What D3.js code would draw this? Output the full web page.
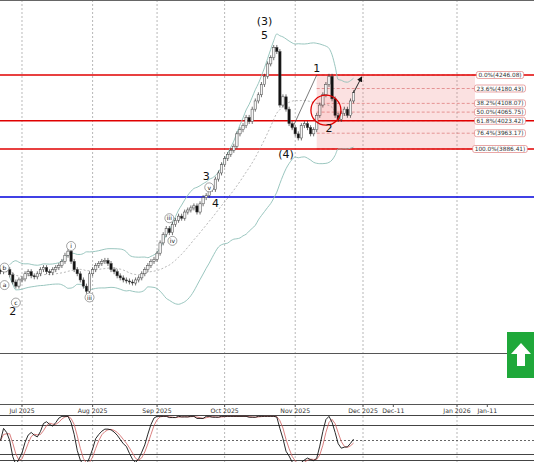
<!DOCTYPE html>
<html><head><meta charset="utf-8">
<script src="https://cdn.jsdelivr.net/npm/d3@7"></script>
<style>body{margin:0;background:#fff}svg{display:block;font-family:"DejaVu Sans",sans-serif}</style>
</head><body><div id="chart"></div>
<script>
// daily closes, Jun 20 2025 .. Nov 28 2025 (trading days)
const closes = [
  3290,3310,3300,3275,3240,3220,3250,
  3255,3280,3290,3270,3265,3280,3300,3310,3290,3285,3300,3310,3320,3340,3370,3390,3340,3300,3280,3250,3220,3195,3280,
  3300,3320,3330,3340,3345,3330,3300,3290,3270,3260,3250,3245,3240,3235,3250,3260,3280,3300,3320,3340,3350,
  3380,3430,3470,3500,3480,3520,3540,3560,3550,3580,3590,3600,3610,3580,3620,3650,3660,3700,3690,3740,3770,3810,
  3840,3860,3880,3900,3960,3980,4000,4040,4020,4080,4120,4150,4200,4240,4300,4330,4380,4360,4100,4140,4080,4010,3990,
  3960,3940,4000,4010,3990,3960,3980,4050,4100,4150,4200,4240,4130,4050,4030,4060,4080,4050,4120,4160
];
const fibPct = ["0.0%","23.6%","38.2%","50.0%","61.8%","76.4%","100.0%"];
const fibVal = [4246.08,4180.43,4108.07,4065.75,4023.42,3963.17,3886.41];
const redLevels = [4246.08,4023.42,3886.41];
const blueLevel = 3653;
const tickLabels = ["Jul 2025","Aug 2025","Sep 2025","Oct 2025","Nov 2025","Dec 2025","Dec-11","Jan 2026","Jan-11"];
const tickDates = ["2025-07-01","2025-08-01","2025-09-01","2025-10-01","2025-11-03","2025-12-01","2025-12-11","2026-01-01","2026-01-11"];
const waveLabels = [
  {t:"(3)",d:"2025-10-20",v:4490},{t:"5",d:"2025-10-20",v:4420},
  {t:"1",d:"2025-11-12",v:4262},{t:"2",d:"2025-11-18",v:3968},
  {t:"(4)",d:"2025-10-29",v:3845},{t:"3",d:"2025-09-23",v:3735},
  {t:"4",d:"2025-09-26",v:3605},{t:"2",d:"2025-06-26",v:3078}
];
const circLabels = [
  {t:"b",d:"2025-06-20",v:3310},{t:"a",d:"2025-06-19",v:3225},{t:"c",d:"2025-06-27",v:3140},
  {t:"i",d:"2025-07-23",v:3415},{t:"iii",d:"2025-07-31",v:3165},
  {t:"v",d:"2025-09-24",v:3700},{t:"iii",d:"2025-09-05",v:3550},{t:"iv",d:"2025-09-08",v:3440}
];

const W = 534, H = 462;
const svg = d3.select("#chart").append("svg").attr("width", W).attr("height", H);

// trading days
const dates = [];
for (let d = new Date(2025,5,20); d <= new Date(2025,10,28); d.setDate(d.getDate()+1)) {
  if (d.getDay() !== 0 && d.getDay() !== 6) dates.push(new Date(d));
}
const fmt = d3.timeFormat("%Y-%m-%d");
const idxOf = s => { let i = dates.findIndex(d => fmt(d) >= s); return i < 0 ? dates.length-1 : i; };
const x = d3.scaleLinear().domain([0, 1]).range([0.5, 3.57]);
// future region runs on calendar days
const xf = d3.scaleTime().domain([new Date(2025,11,1), new Date(2026,0,1)]).range([363, 457]);
const xAt = s => s >= "2025-12-01" ? xf(d3.timeParse("%Y-%m-%d")(s)) : x(idxOf(s));
const y = d3.scaleLinear().domain([3886.41, 4246.08]).range([149, 75]);

// grid
tickDates.forEach((t,i) => {
  if (i===6 || i===8) return;
  const xi = xAt(t);
  svg.append("line").attr("x1",xi).attr("x2",xi).attr("y1",0).attr("y2",H)
    .attr("stroke","#999").attr("stroke-dasharray","2,2").attr("stroke-width",0.7);
});
svg.append("line").attr("x1",0).attr("x2",W).attr("y1",0.5).attr("y2",0.5).attr("stroke","#666");

// fib box
const fx0 = x(idxOf("2025-11-12")), fx1 = 475;
svg.append("rect").attr("x",fx0).attr("y",y(fibVal[0])).attr("width",fx1-fx0)
  .attr("height",y(fibVal[6])-y(fibVal[0])).attr("fill","rgba(235,120,120,0.22)");
fibVal.forEach((v,i) => {
  svg.append("line").attr("x1",fx0).attr("x2",fx1).attr("y1",y(v)).attr("y2",y(v))
    .attr("stroke","#e08080").attr("stroke-dasharray","3,2").attr("stroke-width",0.8);
});
fibVal.forEach((v,i) => {
  const g = svg.append("g");
  const txt = g.append("text").attr("x",500).attr("y",y(v)+2).attr("text-anchor","middle")
    .attr("font-size",5.8).attr("fill","#333").text(`${fibPct[i]}(${v.toFixed(2)})`);
  const bb = txt.node().getBBox();
  g.insert("rect","text").attr("x",bb.x-2).attr("y",bb.y-0.5).attr("width",bb.width+4).attr("height",bb.height+1)
    .attr("rx",2).attr("fill","#fff").attr("stroke","#e08080").attr("stroke-width",0.7);
});

// horizontal levels
redLevels.forEach(v => svg.append("line").attr("x1",0).attr("x2",W).attr("y1",y(v)).attr("y2",y(v))
  .attr("stroke","#e00000").attr("stroke-width",1.4));
svg.append("line").attr("x1",0).attr("x2",W).attr("y1",y(blueLevel)).attr("y2",y(blueLevel))
  .attr("stroke","#0000dd").attr("stroke-width",1.4);
// redraw labels above red lines
svg.selectAll("g").raise();

// bollinger bands (20, 2)
const bb = closes.map((c,i) => {
  const w = closes.slice(Math.max(0,i-19), i+1);
  const m = d3.mean(w), s = d3.deviation(w) || 0;
  return {i, m, u: m + 2*s, l: m - 2*s};
});
const band = k => d3.line().x(d => x(d.i)).y(d => y(d[k])).curve(d3.curveMonotoneX);
svg.append("path").datum(bb.slice(3)).attr("d",band("u")).attr("fill","none").attr("stroke","#8fbfb8").attr("stroke-width",0.9);
svg.append("path").datum(bb.slice(3)).attr("d",band("l")).attr("fill","none").attr("stroke","#8fbfb8").attr("stroke-width",0.9);
svg.append("path").datum(bb.slice(3)).attr("d",band("m")).attr("fill","none").attr("stroke","#888").attr("stroke-dasharray","2,2").attr("stroke-width",0.6);

// candles
closes.forEach((c,i) => {
  const o = i ? closes[i-1] : c + 10;
  const hi = Math.max(o,c) + 12, lo = Math.min(o,c) - 12;
  const cx = x(i);
  svg.append("line").attr("x1",cx).attr("x2",cx).attr("y1",y(hi)).attr("y2",y(lo)).attr("stroke","#333").attr("stroke-width",0.7);
  svg.append("rect").attr("x",cx-1.2).attr("width",2.4).attr("y",y(Math.max(o,c)))
    .attr("height",Math.max(1,Math.abs(y(o)-y(c))))
    .attr("fill", c >= o ? "#f4f4f4" : "#111").attr("stroke","#444").attr("stroke-width",0.5);
});

// wave lines, circle, arrow
const iw4 = idxOf("2025-10-31"), iw1 = idxOf("2025-11-12");
svg.append("line").attr("x1",x(iw4)).attr("y1",y(3985)).attr("x2",x(iw1)).attr("y2",y(4246)).attr("stroke","#444").attr("stroke-width",0.7);
svg.append("circle").attr("cx",x(idxOf("2025-11-17"))).attr("cy",y(4075)).attr("r",15)
  .attr("fill","rgba(255,0,0,0.06)").attr("stroke","#e00000").attr("stroke-width",1.3);
svg.append("defs").append("marker").attr("id","ah").attr("viewBox","0 0 10 10").attr("refX",8).attr("refY",5)
  .attr("markerWidth",6).attr("markerHeight",6).attr("orient","auto")
  .append("path").attr("d","M0,0L10,5L0,10z").attr("fill","#111");
svg.append("line").attr("x1",x(closes.length-1)).attr("y1",y(4160)).attr("x2",x(closes.length-1)+8).attr("y2",y(4235))
  .attr("stroke","#111").attr("stroke-width",0.9).attr("marker-end","url(#ah)");

waveLabels.forEach(l => svg.append("text").attr("x",x(idxOf(l.d))).attr("y",y(l.v)).attr("text-anchor","middle")
  .attr("font-size",11).attr("fill","#111").text(l.t));
circLabels.forEach(l => {
  const cx = x(idxOf(l.d)), cy = y(l.v);
  svg.append("circle").attr("cx",Math.max(4.5,cx)).attr("cy",cy).attr("r",4.5).attr("fill","#fff").attr("stroke","#666").attr("stroke-width",0.6);
  svg.append("text").attr("x",Math.max(4.5,cx)).attr("y",cy+2.2).attr("text-anchor","middle").attr("font-size",6).attr("fill","#111").text(l.t);
});

// separator and axis
svg.append("line").attr("x1",0).attr("x2",W).attr("y1",353.5).attr("y2",353.5).attr("stroke","#555");
svg.append("line").attr("x1",0).attr("x2",W).attr("y1",404.5).attr("y2",404.5).attr("stroke","#555");
tickDates.forEach((t,i) => {
  const xi = xAt(t);
  svg.append("line").attr("x1",xi).attr("x2",xi).attr("y1",404).attr("y2",407).attr("stroke","#555");
  svg.append("text").attr("x",xi).attr("y",413).attr("text-anchor","middle").attr("font-size",6.2).attr("fill","#333").text(tickLabels[i]);
});

// green button
svg.append("rect").attr("x",507).attr("y",332).attr("width",27).attr("height",46).attr("fill","#1fa83a");
svg.append("path").attr("d","M521,343 L531,354 L525,354 L525,366 L517,366 L517,354 L511,354 Z").attr("fill","#fff");

// stochastic oscillator (14,3)
const ys = d3.scaleLinear().domain([20,80]).range([455,426]);
const kRaw = closes.map((c,i) => {
  const w = closes.slice(Math.max(0,i-13), i+1);
  const mn = d3.min(w), mx = d3.max(w);
  return mx === mn ? 50 : 100*(c-mn)/(mx-mn);
});
const sma = (a,n) => a.map((v,i) => d3.mean(a.slice(Math.max(0,i-n+1), i+1)));
const kLine = sma(kRaw,3), dLine = sma(kLine,3);
[415.5,425.5,454.5,460.5].forEach(v => svg.append("line").attr("x1",0).attr("x2",W).attr("y1",v).attr("y2",v).attr("stroke","#444"));
svg.append("line").attr("x1",0).attr("x2",W).attr("y1",ys(50)).attr("y2",ys(50)).attr("stroke","#666").attr("stroke-dasharray","2,2");
const ol = d3.line().x((d,i) => x(i)).y(d => ys(d));
svg.append("path").datum(dLine).attr("d",ol).attr("fill","none").attr("stroke","#d06060").attr("stroke-width",0.8);
svg.append("path").datum(kLine).attr("d",ol).attr("fill","none").attr("stroke","#111").attr("stroke-width",0.9);
</script></body></html>
